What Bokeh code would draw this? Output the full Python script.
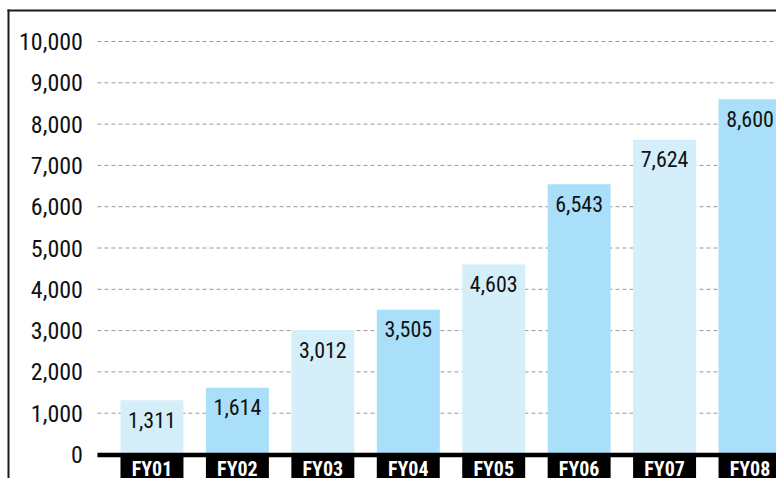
from bokeh.plotting import figure
from bokeh.models import Range1d
from bokeh.embed import file_html
from bokeh.resources import INLINE
from bokeh.core.properties import value

# ---- data ----
categories = ["FY01", "FY02", "FY03", "FY04", "FY05", "FY06", "FY07", "FY08"]
values = [1311, 1614, 3012, 3505, 4603, 6543, 7624, 8600]
value_labels = ["1,311", "1,614", "3,012", "3,505", "4,603", "6,543", "7,624", "8,600"]
y_ticks = [0, 1000, 2000, 3000, 4000, 5000, 6000, 7000, 8000, 9000, 10000]
y_tick_labels = ["0", "1,000", "2,000", "3,000", "4,000", "5,000",
                 "6,000", "7,000", "8,000", "9,000", "10,000"]

# ---- layout / style ----
W, H = 776, 478
X0, X1 = -0.773, 8.310
Y0, Y1 = -581, 10993
px_x = W / (X1 - X0)
px_y = H / (Y1 - Y0)
BAR_W = 0.737
GRID_START = 0.362
TICK_LABEL_X = 0.192
FONT = "'Roboto Condensed', 'Liberation Sans Narrow', 'Arial Narrow', 'DejaVu Sans Condensed', sans-serif"
LIGHT, DARK = "#d4eefa", "#a9dff8"

xs = list(range(1, len(categories) + 1))
colors = [LIGHT if i % 2 == 0 else DARK for i in range(len(categories))]

p = figure(width=W, height=H, x_range=Range1d(X0, X1), y_range=Range1d(Y0, Y1),
           output_backend="svg", toolbar_location=None,
           x_axis_location=None, y_axis_location=None, min_border=0)
p.grid.visible = False
p.outline_line_color = None
p.background_fill_color = "white"
p.border_fill_color = "white"

# gridlines
p.segment(x0=GRID_START, y0=y_ticks, x1=X1, y1=y_ticks,
          line_color="#9a9a9a", line_width=1, line_dash="4 3")

# bars
p.vbar(x=xs, width=BAR_W, bottom=0, top=values, fill_color=colors, line_color=None)

# black category boxes and baseline
p.vbar(x=xs, width=BAR_W, top=0, bottom=Y0, fill_color="black", line_color=None)
p.quad(left=GRID_START, right=X1, bottom=-2.7 / px_y, top=1.8 / px_y,
       fill_color="black", line_color=None)

# category labels
p.text(x=xs, y=[-14 / px_y] * len(xs), text=categories, text_color="white",
       text_font=value(FONT), text_font_style="bold", text_font_size="20px",
       text_align="center", text_baseline="middle")

# value labels
p.text(x=xs, y=[v - 19.5 / px_y for v in values], text=value_labels, text_color="#111111",
       text_font=value(FONT), text_font_size="22px",
       text_align="center", text_baseline="middle")

# y tick labels
p.text(x=[TICK_LABEL_X] * len(y_ticks), y=y_ticks, text=y_tick_labels, text_color="#111111",
       text_font=value(FONT), text_font_size="24px",
       text_align="right", text_baseline="middle")

# frame borders (left and top)
bx = X0 + 8 / px_x
by = Y1 - 10 / px_y
p.segment(x0=[bx, bx - 1 / px_x], y0=[Y0, by], x1=[bx, X1], y1=[by + 1 / px_y, by],
          line_color="#1a1a1a", line_width=2)

open("out.html", "w").write(file_html(p, INLINE))
